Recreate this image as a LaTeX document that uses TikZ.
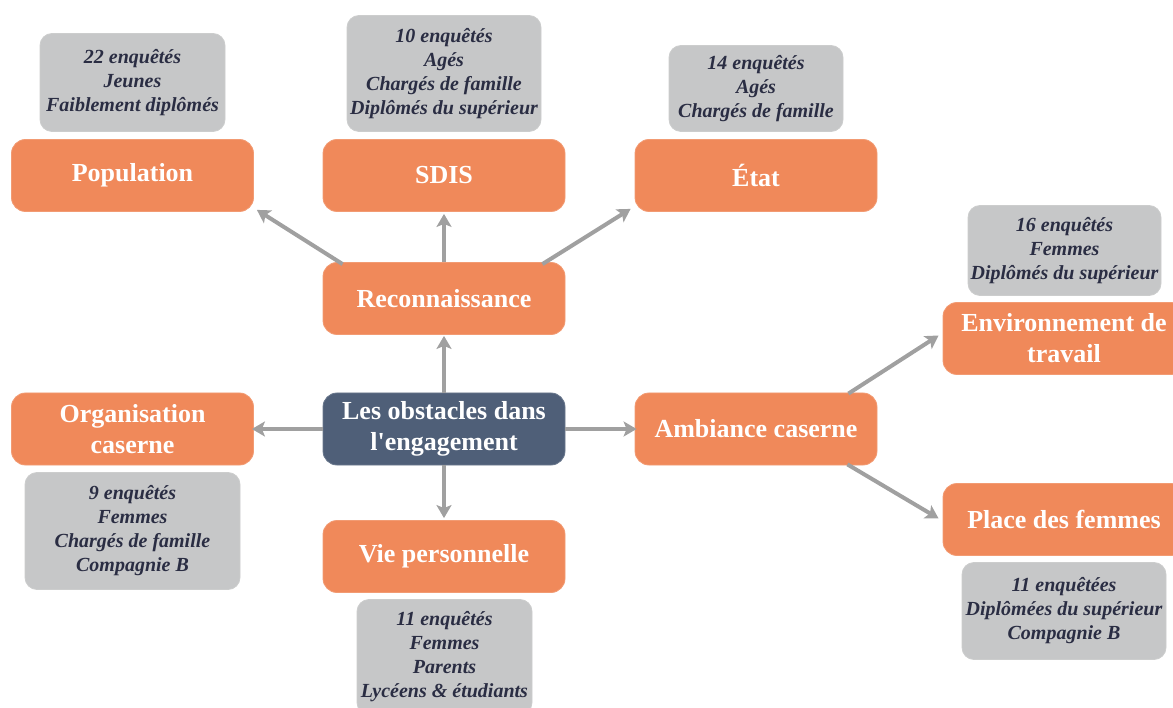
\documentclass[tikz,border=0pt]{standalone}
\usepackage{fontspec}
\setmainfont{Liberation Serif}
\usetikzlibrary{arrows.meta}
\definecolor{orng}{HTML}{F0895A}
\definecolor{navy}{HTML}{4F5F78}
\definecolor{gbox}{HTML}{C6C7C8}
\definecolor{gtext}{HTML}{2A2D43}
\definecolor{arr}{HTML}{A0A0A0}
\tikzset{
  obox/.style={fill=orng, draw=orng!85!white, line width=0.8pt, rounded corners=14pt, minimum width=242pt, minimum height=72pt, inner sep=0pt, text=white, font=\fontsize{26}{31}\selectfont\bfseries, align=center},
  cbox/.style={obox, fill=navy, draw=navy!85!white},
  gbx/.style={fill=gbox, draw=gbox!90!white, line width=0.8pt, rounded corners=12pt, inner sep=0pt, text=gtext, font=\fontsize{20}{24}\selectfont\bfseries\itshape, align=center},
  con/.style={draw=arr, line width=4pt, -{Stealth[length=13pt,width=15pt,inset=3pt]}}
}
\begin{document}
\begin{tikzpicture}[x=1pt,y=-1pt]
\useasboundingbox (0,0) rectangle (1173,708);
% orange nodes
\node[obox] (pop) at (132.5,175.5) {Population};
\node[obox] (sdis) at (444,175.5) {SDIS};
\node[obox] (etat) at (756,175.5) {État};
\node[obox] (reco) at (444,298.5) {Reconnaissance};
\node[cbox] (ctr) at (444,429) {Les obstacles dans\\l\textquotesingle engagement};
\node[obox] (orga) at (132.5,429) {Organisation\\caserne};
\node[obox] (amb) at (756,429) {Ambiance caserne};
\node[obox] (vie) at (444,556.5) {Vie personnelle};
\node[obox] (env) at (1064,338.5) {Environnement de\\travail};
\node[obox] (place) at (1064,519.5) {Place des femmes};
% grey boxes
\node[gbx, minimum width=185pt, minimum height=98pt] (g22) at (132.5,82.5) {22 enquêtés\\Jeunes\\Faiblement diplômés};
\node[gbx, minimum width=194pt, minimum height=116pt] (g10) at (444,73.5) {10 enquêtés\\Agés\\Chargés de famille\\Diplômés du supérieur};
\node[gbx, minimum width=174pt, minimum height=86pt] (g14) at (756,88.5) {14 enquêtés\\Agés\\Chargés de famille};
\node[gbx, minimum width=193pt, minimum height=90pt] (g16) at (1064.5,250.5) {16 enquêtés\\Femmes\\Diplômés du supérieur};
\node[gbx, minimum width=215pt, minimum height=117pt] (g9) at (132.5,531) {9 enquêtés\\Femmes\\Chargés de famille\\Compagnie B};
\node[gbx, minimum width=175pt, minimum height=115pt] (g11v) at (444.5,657) {11 enquêtés\\Femmes\\Parents\\Lycéens \& étudiants};
\node[gbx, minimum width=204pt, minimum height=97pt] (g11p) at (1064,611) {11 enquêtées\\Diplômées du supérieur\\Compagnie B};
% connectors
\draw[con] (ctr.north) -- ([yshift=-1pt]reco.south);
\draw[con] (ctr.south) -- ([yshift=2pt]vie.north);
\draw[con] (ctr.west) -- ([xshift=-2pt]orga.east);
\draw[con] (ctr.east) -- ([xshift=2pt]amb.west);
\draw[con] (reco.north) -- ([yshift=-2pt]sdis.south);
\draw[con] ([xshift=20pt,yshift=-2pt]reco.north west) -- ([xshift=3pt,yshift=2pt]pop.south east);
\draw[con] ([xshift=-23pt,yshift=-2pt]reco.north east) -- ([xshift=-4pt,yshift=3pt]etat.south west);
\draw[con] ([xshift=-29pt,yshift=-1pt]amb.north east) -- ([xshift=-4pt,yshift=3pt]env.west);
\draw[con] ([xshift=-30pt,yshift=1pt]amb.south east) -- ([xshift=-4pt,yshift=1pt]place.west);
\end{tikzpicture}
\end{document}
